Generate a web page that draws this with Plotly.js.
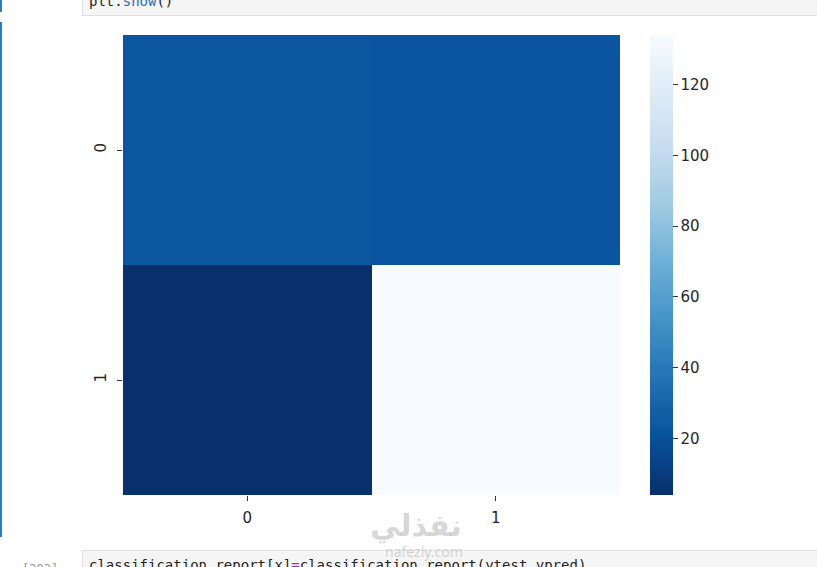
<!DOCTYPE html>
<html>
<head>
<meta charset="utf-8">
<script src="https://cdn.plot.ly/plotly-3.0.1.min.js"></script>
<style>
  html, body { margin:0; padding:0; background:#fff; width:817px; height:567px; overflow:hidden; position:relative; font-family:"DejaVu Sans", sans-serif; }
  .bar { position:absolute; left:0; width:2px; background:#2b7bc0; }
  .code { position:absolute; left:82px; right:-2px; background:#f5f5f5; border:1px solid #e0e0e0; font-family:"DejaVu Sans Mono", monospace; font-size:14px; color:#222; white-space:pre; overflow:hidden; }
  .prompt { position:absolute; font-family:"DejaVu Sans Mono", monospace; font-size:12px; color:#999; }
  .wm { position:absolute; color:rgba(140,140,140,0.35); font-family:"Noto Sans", "DejaVu Sans", sans-serif; }
  #chart { position:absolute; left:0; top:0; }
</style>
</head>
<body>
<div class="bar" style="top:0;height:12px"></div>
<div class="bar" style="top:22px;height:515px"></div>
<div class="code" style="top:-12px;height:26px;"><span style="position:absolute;left:6px;top:4px;">plt.<span style="color:#2a6fb8">show</span>()</span></div>
<div class="code" style="top:550px;height:30px;"><span style="position:absolute;left:6px;top:6px;">classification_report[x]<span style="color:#a626d6">=</span>classification_report(ytest,ypred)</span></div>
<div class="prompt" style="left:22px;top:562px;">[283]</div>
<div id="chart"></div>
<div class="wm" style="left:370px;top:510px;font-size:30px;font-weight:bold;line-height:30px;">نفذلي</div>
<div class="wm" style="left:385px;top:545px;font-size:14px;line-height:14px;">nafezly.com</div>
<script>
const xLabels = ['0', '1'];
const yLabels = ['0', '1'];
const row0 = [23, 22];
const row1 = [4, 134];
const zValues = [row0, row1];
const colorTicks = [20, 40, 60, 80, 100, 120];

const bluesR = [
  [0.0, '#08306b'], [0.125, '#08519c'], [0.25, '#2171b5'], [0.375, '#4292c6'],
  [0.5, '#6baed6'], [0.625, '#9ecae1'], [0.75, '#c6dbef'], [0.875, '#deebf7'], [1.0, '#f7fbff']
];

const tickFont = { family: 'DejaVu Sans, sans-serif', size: 15, color: '#262626' };

Plotly.newPlot('chart', [{
  type: 'heatmap',
  x: xLabels,
  y: yLabels,
  z: zValues,
  colorscale: bluesR,
  xgap: 0, ygap: 0,
  hoverinfo: 'skip',
  colorbar: {
    x: 1.0604, xanchor: 'left', xref: 'paper',
    y: 0.5, yanchor: 'middle', len: 1, lenmode: 'fraction',
    thickness: 23, outlinewidth: 0,
    tickvals: colorTicks, ticks: 'outside', ticklen: 5, tickwidth: 1, tickcolor: '#333',
    tickprefix: '\u2009', tickfont: tickFont, xpad: 0, ypad: 0
  }
}], {
  width: 817, height: 567,
  margin: { l: 123, r: 197, t: 35, b: 72 },
  paper_bgcolor: 'rgba(0,0,0,0)',
  plot_bgcolor: 'rgba(0,0,0,0)',
  xaxis: { type: 'category', ticks: 'outside', ticklen: 5, tickwidth: 1, tickcolor: '#333', tickfont: tickFont, ticklabelstandoff: 4, showgrid: false, zeroline: false, showline: false },
  yaxis: { type: 'category', autorange: 'reversed', ticks: 'outside', ticklen: 5, tickwidth: 1, tickcolor: '#333', tickfont: tickFont, ticklabelstandoff: 5, tickangle: -90, showgrid: false, zeroline: false, showline: false },
  showlegend: false
}, { staticPlot: true, displayModeBar: false });
</script>
</body>
</html>
